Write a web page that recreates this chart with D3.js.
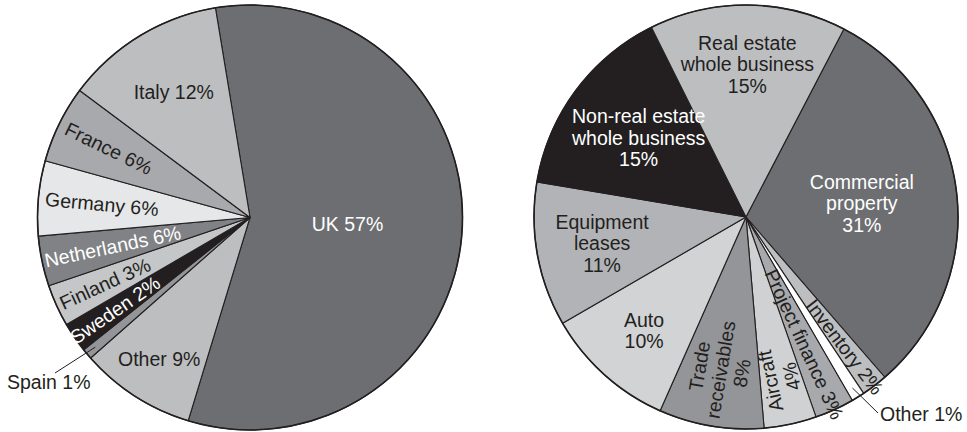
<!DOCTYPE html>
<html lang="en">
<head>
<meta charset="utf-8">
<title>Securitisation pies</title>
<script src="https://cdn.jsdelivr.net/npm/d3@7"></script>
<style>
  body { margin: 0; background: #fff; }
  text { font-family: "Liberation Sans", Arial, sans-serif; font-size: 19.5px; }
</style>
</head>
<body>
<script>
// left pie: by country (shares, labels as printed)
var countries = ["UK", "Other", "Spain", "Sweden", "Finland", "Netherlands", "Germany", "France", "Italy"];
var countryShares = [57.3, 8.8, 0.8, 2.3, 3.2, 3.8, 5.7, 5.9, 12.2];
var countryLabels = ["57%", "9%", "1%", "2%", "3%", "6%", "6%", "6%", "12%"];

// right pie: by asset type
var assets = ["Commercial property", "Inventory", "Other", "Project finance", "Aircraft",
              "Trade receivables", "Auto", "Equipment leases",
              "Non-real estate whole business", "Real estate whole business"];
var assetValues = [31, 2, 1, 3, 4, 8, 10, 11, 15, 15];

var w = 967, h = 432;
var dark = "#231f20";

var svg = d3.select("body").append("svg")
    .attr("width", w)
    .attr("height", h);

var deg = Math.PI / 180;

// layout per slice: radius fraction, mode, fill, text lines
var leftLayout = {
  "UK":          {f: 0.46, mode: "h",   fill: "#6d6e71", ink: "#fff"},
  "Other":       {f: 0.79, mode: "h",   fill: "#bcbec0", ink: dark},
  "Spain":       {f: 0.97, mode: "out", fill: "#939598", ink: dark},
  "Sweden":      {f: 0.77, mode: "rot", fill: dark,      ink: "#fff"},
  "Finland":     {f: 0.75, mode: "rot", fill: "#c4c6c8", ink: dark},
  "Netherlands": {f: 0.66, mode: "rot", fill: "#808285", ink: "#fff"},
  "Germany":     {f: 0.70, mode: "rot", fill: "#e6e7e8", ink: dark},
  "France":      {f: 0.74, mode: "rot", fill: "#a7a9ac", ink: dark},
  "Italy":       {f: 0.69, mode: "h",   fill: "#bcbec0", ink: dark}
};

var rightLayout = {
  "Commercial property":            {f: 0.55, mode: "h",   fill: "#6d6e71", ink: "#fff", lines: ["Commercial", "property"]},
  "Inventory":                      {f: 0.77, mode: "out-rot", fill: "#bcbec0", ink: dark, lines: ["Inventory"]},
  "Other":                          {f: 0.97, mode: "out", fill: "#ffffff", ink: dark, lines: ["Other"]},
  "Project finance":                {f: 0.66, mode: "out-rot", fill: "#a7a9ac", ink: dark, lines: ["Project finance"]},
  "Aircraft":                       {f: 0.78, mode: "rot", fill: "#cfd1d2", ink: dark, lines: ["Aircraft"]},
  "Trade receivables":              {f: 0.73, mode: "rot", fill: "#939598", ink: dark, lines: ["Trade", "receivables"]},
  "Auto":                           {f: 0.72, mode: "h",   fill: "#d1d3d4", ink: dark, lines: ["Auto"]},
  "Equipment leases":               {f: 0.69, mode: "h",   fill: "#b1b3b6", ink: dark, lines: ["Equipment", "leases"]},
  "Non-real estate whole business": {f: 0.63, mode: "h",   fill: dark,      ink: "#fff", lines: ["Non-real estate", "whole business"]},
  "Real estate whole business":     {f: 0.72, mode: "h",   fill: "#bcbec0", ink: dark, lines: ["Real estate", "whole business"]}
};

var lh = 21.5;

function drawPie(cx, cy, r, names, values, start, layout, lineFn) {
  var g = svg.append("g").attr("transform", "translate(" + cx + "," + cy + ")");

  var pie = d3.pie().sort(null)
      .startAngle(start * deg)
      .endAngle(start * deg + 2 * Math.PI);
  var arc = d3.arc().innerRadius(0).outerRadius(r);

  var arcs = pie(values);

  g.selectAll("path")
    .data(arcs)
    .enter()
    .append("path")
    .attr("d", arc)
    .attr("fill", function(d, i) { return layout[names[i]].fill; })
    .attr("stroke", dark)
    .attr("stroke-width", 1.1)
    .attr("stroke-linejoin", "round");

  g.append("circle")
    .attr("r", r)
    .attr("fill", "none")
    .attr("stroke", dark)
    .attr("stroke-width", 1.6);

  arcs.forEach(function(d, i) {
    var L = layout[names[i]];
    var mid = (d.startAngle + d.endAngle) / 2;
    var middeg = mid / deg;
    var x = Math.sin(mid) * r * L.f;
    var y = -Math.cos(mid) * r * L.f;
    var lines = lineFn(i);

    if (L.mode == "out") return;

    var rot = 0;
    if (L.mode == "rot") rot = middeg - 270;
    if (L.mode == "out-rot") rot = middeg - 90;

    var t = g.append("text")
      .attr("transform", "translate(" + x + "," + y + ") rotate(" + rot + ")")
      .attr("text-anchor", "middle")
      .attr("fill", L.ink);

    var first = -(lines.length - 1) * lh / 2 + 7;
    lines.forEach(function(s, k) {
      t.append("tspan")
        .attr("x", 0)
        .attr("y", first + k * lh)
        .text(s);
    });
  });

  return {g: g, arcs: arcs, r: r};
}

// left pie
var left = drawPie(250, 217.5, 212.5, countries, countryShares, -9.36, leftLayout, function(i) {
  return [countries[i] + " " + countryLabels[i]];
});

// right pie
var right = drawPie(746, 217, 212, assets, assetValues, 27.5, rightLayout, function(i) {
  var L = rightLayout[assets[i]];
  var pct = assetValues[i] + "%";
  if (L.mode == "rot" || L.mode == "h") {
    if (L.lines.length > 1 || assets[i] == "Auto" || assets[i] == "Aircraft") return L.lines.concat([pct]);
  }
  return [L.lines[0] + " " + pct];
});

// outside labels with leader lines
function leader(p, idx, tx, ty, label, anchor) {
  var d = p.arcs[idx];
  var mid = (d.startAngle + d.endAngle) / 2;
  var t = p.g.attr("transform").match(/translate\(([^,]+),([^)]+)\)/);
  var cx = +t[1], cy = +t[2];
  var x0 = cx + Math.sin(mid) * p.r * 0.95;
  var y0 = cy - Math.cos(mid) * p.r * 0.95;
  svg.append("line")
    .attr("x1", x0).attr("y1", y0)
    .attr("x2", tx).attr("y2", ty)
    .attr("stroke", dark)
    .attr("stroke-width", 1);
}

leader(left, 2, 55, 373);
svg.append("text")
  .attr("x", 7).attr("y", 389)
  .attr("fill", dark)
  .text(countries[2] + " " + countryLabels[2]);

leader(right, 2, 878, 413);
svg.append("text")
  .attr("x", 880).attr("y", 421)
  .attr("fill", dark)
  .text(assets[2] + " " + assetValues[2] + "%");
</script>
</body>
</html>
